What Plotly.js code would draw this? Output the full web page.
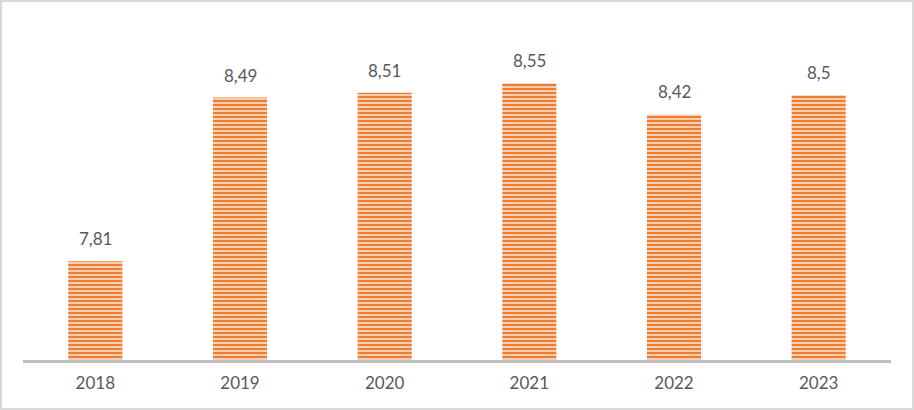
<!DOCTYPE html>
<html>
<head>
<meta charset="utf-8">
<script src="https://cdn.plot.ly/plotly-3.0.1.min.js"></script>
<style>
  html, body { margin: 0; padding: 0; background: #fff; }
  #chart { width: 914px; height: 410px; box-sizing: border-box; border: 2px solid #d9d9d9; }
</style>
</head>
<body>
<div id="chart"></div>
<script>
// values from the chart
const years = ['2018', '2019', '2020', '2021', '2022', '2023'];
const scores = [7.81, 8.49, 8.51, 8.55, 8.42, 8.5];
const scoreLabels = ['7,81', '8,49', '8,51', '8,55', '8,42', '8,5'];

const orange = '#ED7D31';
const textColor = '#595959';
const fontFamily = 'Lato, Open Sans, sans-serif';

const data = [{
  type: 'bar',
  x: years,
  y: scores,
  marker: {
    color: '#F9CDAE',
    line: { width: 0 },
    pattern: {
      shape: '-',
      fgcolor: orange,
      bgcolor: '#FAD6BD',
      size: 4,
      solidity: 0.55,
    },
  },
  hoverinfo: 'skip',
}];

// category axis: annotations placed by category index
const labels = years.map((yr, i) => ({
  x: i,
  y: scores[i],
  xref: 'x',
  yref: 'y',
  text: scoreLabels[i],
  showarrow: false,
  yanchor: 'bottom',
  yshift: 10,
  font: { family: fontFamily, size: 17, color: textColor },
}));

const layout = {
  width: 910,
  height: 406,
  margin: { l: 21, r: 21, t: 21, b: 48 },
  paper_bgcolor: '#ffffff',
  plot_bgcolor: '#ffffff',
  showlegend: false,
  bargap: 0.626,
  font: { family: fontFamily, size: 17, color: textColor },
  xaxis: {
    type: 'category',
    range: [-0.5, years.length - 0.5],
    showgrid: false,
    showline: true,
    linecolor: '#bfbfbf',
    linewidth: 2.5,
    ticks: '',
    ticklabelstandoff: 6,
    tickfont: { family: fontFamily, size: 17, color: textColor },
  },
  yaxis: {
    range: [7.4, 8.8],
    showticklabels: false,
    showgrid: false,
    zeroline: false,
    showline: false,
    ticks: '',
  },
  annotations: labels,
};

Plotly.newPlot('chart', data, layout, { displayModeBar: false });
</script>
</body>
</html>
